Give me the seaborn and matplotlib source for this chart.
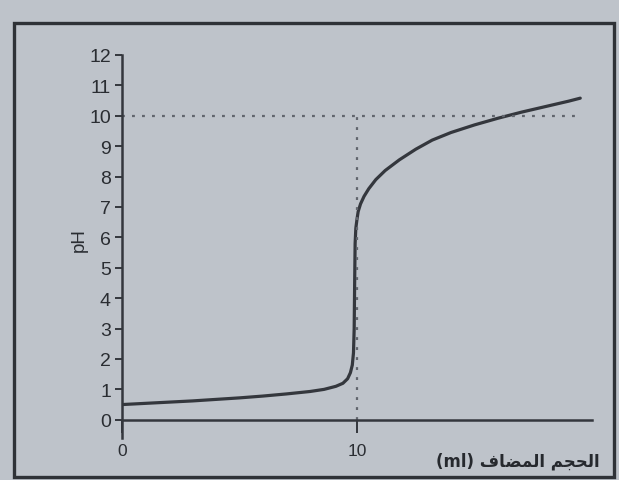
import numpy as np
import pandas as pd
import matplotlib
matplotlib.use("Agg")
import matplotlib.pyplot as plt
import seaborn as sns
from matplotlib.patches import Rectangle

# titration curve
volume_ml = [0, 1, 2, 3, 4, 5, 6, 7, 8, 8.6, 9.1, 9.4, 9.6, 9.72, 9.8, 9.85,
             9.88, 9.9, 9.92, 9.95, 10.0, 10.05, 10.15, 10.3, 10.5, 10.8,
             11.2, 11.8, 12.5, 13.2, 14, 15, 16, 17, 18, 19, 19.5]
ph_values = [0.5, 0.54, 0.58, 0.62, 0.67, 0.72, 0.78, 0.85, 0.93, 1.0, 1.1,
             1.2, 1.35, 1.55, 1.8, 2.2, 3.0, 4.5, 5.8, 6.3, 6.6, 6.85, 7.1,
             7.35, 7.6, 7.9, 8.2, 8.55, 8.9, 9.2, 9.45, 9.7, 9.92, 10.12,
             10.3, 10.48, 10.58]

equiv_volume = 10
guide_ph = 10
guide_end = 19.5
y_ticks = list(range(0, 13))
x_ticks = [0, 10]

# x label, Arabic written in presentation forms (visual order)
x_label = "(ml) \uFED1\uFE8E\uFEC0\uFEE4\uFEDF\uFE8D \uFEE2\uFEA0\uFEA4\uFEDF\uFE8D"

bg = "#bec3ca"
ink = "#34373d"
text_col = "#2a2d32"

sns.set_theme(style="white")
plt.rcParams["font.family"] = ["Liberation Sans", "DejaVu Sans"]

fig = plt.figure(figsize=(6.19, 4.81), dpi=100, facecolor=bg)
W, H = 619, 481
ax = fig.add_axes([122 / W, (H - 439) / H, (592 - 122) / W, (439 - 56) / H])
ax.set_facecolor(bg)

df = pd.DataFrame({"volume": volume_ml, "ph": ph_values})
sns.lineplot(data=df, x="volume", y="ph", ax=ax, color=ink, linewidth=2.3,
             estimator=None, sort=False)

# dotted guide lines
ax.plot([0, guide_end], [guide_ph, guide_ph], linestyle=(0, (1.3, 3.2)),
        color="#62666e", linewidth=1.6)
ax.plot([equiv_volume, equiv_volume], [0, guide_ph], linestyle=(0, (1.3, 3.2)),
        color="#62666e", linewidth=1.6)

ax.set_xlim(0, 20)
ax.set_ylim(-0.6, 12)
ax.set_xticks(x_ticks)
ax.set_yticks(y_ticks)

for s in ["top", "right"]:
    ax.spines[s].set_visible(False)
ax.spines["bottom"].set_position(("data", 0))
ax.spines["bottom"].set_color(ink)
ax.spines["bottom"].set_linewidth(1.8)
ax.spines["left"].set_color(ink)
ax.spines["left"].set_linewidth(1.8)
ax.spines["left"].set_bounds(-0.6, 12)

ax.tick_params(axis="y", direction="out", length=5, width=1.4, color=ink,
               labelsize=14, labelcolor=text_col, pad=3, left=True)
ax.tick_params(axis="x", direction="out", length=9, width=1.4, color=ink,
               labelsize=12.5, labelcolor=text_col, pad=8, bottom=True)

ax.set_xlabel("")
ax.set_ylabel("pH", fontsize=13.5, color=text_col)
ax.yaxis.set_label_coords((88 - 122) / (592 - 122), (439 - 240) / (439 - 56))

fig.text(518 / W, 1 - 462 / H, x_label, family=["DejaVu Sans"], fontsize=12,
         fontweight="bold", color="#26292e", ha="center", va="center")

# outer frame of the figure
fig.patches.append(Rectangle((14 / W, 3 / H), (614 - 14) / W, (478 - 24) / H,
                             transform=fig.transFigure, fill=False,
                             edgecolor="#2f3237", linewidth=2.4))

fig.savefig("out.png", dpi=100, facecolor=bg)
